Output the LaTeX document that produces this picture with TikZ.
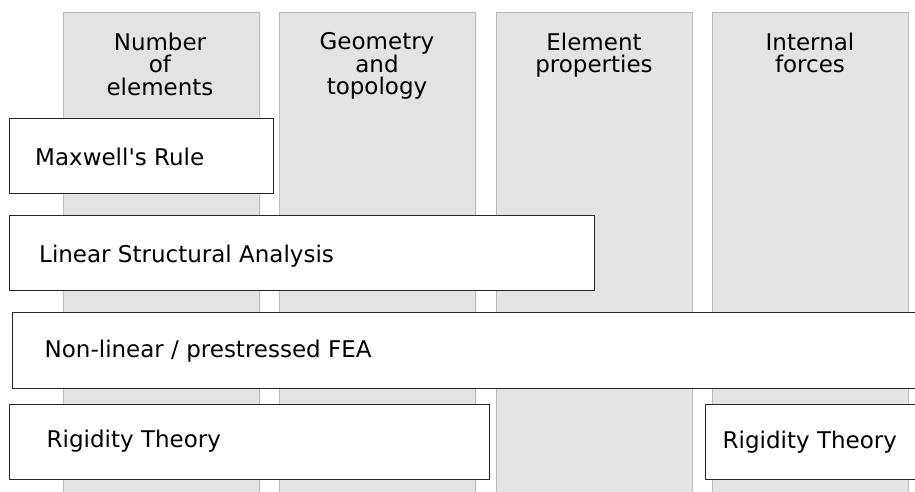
\documentclass[tikz,border=0pt]{standalone}
\usepackage{fontspec}
\setmainfont{DejaVu Sans}
\newcommand{\straightquote}{\XeTeXglyph\XeTeXglyphindex"quotesingle"\relax}
\begin{document}
\begin{tikzpicture}[x=1pt,y=-1pt,
  column/.style={draw=black!27, fill=black!11, line width=1pt},
  box/.style={draw=black!85, fill=white, line width=1.2pt, anchor=north west, inner sep=0pt},
  label/.style={anchor=base west, inner sep=0pt, font=\fontsize{23}{22.5}\selectfont},
  head/.style={anchor=north, inner sep=0pt, align=center, font=\fontsize{23}{22.5}\selectfont}]
\path[use as bounding box, clip] (0,0) rectangle (915,491);
% columns
\node[column, anchor=north west, minimum width=196pt, minimum height=500pt, inner sep=0pt] (c1) at (63,12) {};
\node[column, anchor=north west, minimum width=196pt, minimum height=500pt, inner sep=0pt] (c2) at (279,12) {};
\node[column, anchor=north west, minimum width=196pt, minimum height=500pt, inner sep=0pt] (c3) at (496,12) {};
\node[column, anchor=north west, minimum width=196pt, minimum height=500pt, inner sep=0pt] (c4) at (712,12) {};
% headers
\node[head] (h1) at (160,32.5) {Number\\of\\elements};
\node[head] (h2) at (377,32.5) {Geometry\\and\\topology};
\node[head] (h3) at (594,32.5) {Element\\properties};
\node[head] (h4) at (810,32.5) {Internal\\forces};
% boxes
\node[box, minimum width=264pt, minimum height=75pt] (b1) at (9,118) {};
\node[label] (t1) at (35,165) {Maxwell\straightquote s Rule};
\node[box, minimum width=585pt, minimum height=75pt] (b2) at (9,215) {};
\node[label] (t2) at (39,262) {Linear Structural Analysis};
\node[box, minimum width=920pt, minimum height=76pt] (b3) at (12,312) {};
\node[label] (t3) at (44.5,357) {Non-linear / prestressed FEA};
\node[box, minimum width=480pt, minimum height=75pt] (b4) at (9,404) {};
\node[label] (t4) at (46.5,447) {Rigidity Theory};
\node[box, minimum width=240pt, minimum height=75pt] (b5) at (705,404) {};
\node[label] (t5) at (722.5,448) {Rigidity Theory};
\end{tikzpicture}
\end{document}
